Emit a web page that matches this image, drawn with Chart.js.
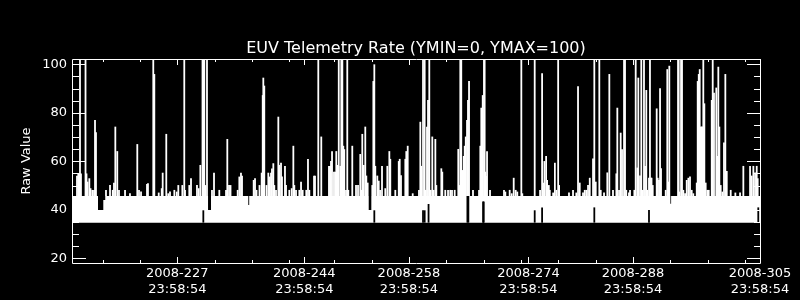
<!DOCTYPE html>
<html><head><meta charset="utf-8">
<style>html,body{margin:0;padding:0;background:#000;}canvas{display:block;}</style>
<script src="https://cdn.jsdelivr.net/npm/chart.js@4.4.1/dist/chart.umd.min.js"></script>
</head><body>
<canvas id="c" width="800" height="300"></canvas>
<script>
// ---- text ----
const titleText = 'EUV Telemetry Rate (YMIN=0, YMAX=100)';
const yTitleText = 'Raw Value';
const tickYear = '2008';
const tickTime = '23:58:54';
// ---- axes (day of year 2008) ----
const tickDays = [227, 244, 258, 274, 288, 305];
const minorDays = [217, 222, 232, 237, 242, 248, 253, 263, 268, 273, 278, 283, 293, 298, 303];
const yTicks = [20, 40, 60, 80, 100];
const xMin = 212.9, xMax = 305.0;
const yMin = 18.06, yMax = 102.2;
// ---- the dense telemetry band ----
const bandLow = 34.7, bandHigh = 45.7;
const notchStart = [216.38, 217.09, 231.11, 236.50, 252.62, 293.00];
const notchEnd   = [217.09, 217.35, 231.51, 236.62, 252.97, 293.10];
const notchTop   = [39.9,   44.0,   39.9,   42.0,   39.9,   42.5];
// dropouts inside the band
const gapDay = [230.48, 253.37, 259.89, 260.11, 260.63, 265.83, 265.96, 267.93, 268.02, 274.84, 275.83, 282.82, 290.14, 304.77];
const gapTop = [39.8, 39.8, 39.8, 39.8, 42.4, 45.7, 45.7, 43.4, 43.4, 39.8, 41, 41, 39.9, 41];
// ---- spikes above the band ----
const spikeDay = [
213.57,213.74,213.88,213.97,214.10,214.71,214.84,214.98,215.22,215.38,215.62,215.85,215.98,216.11,
217.45,217.99,218.35,218.52,218.70,218.96,219.19,220.00,220.66,221.64,221.87,222.14,222.94,223.07,
223.78,223.92,224.51,224.91,225.04,225.52,225.79,226.02,226.60,226.92,227.13,227.67,227.93,228.03,
228.60,228.83,229.63,229.86,230.08,230.37,230.50,230.61,230.74,230.97,231.64,231.91,232.62,233.52,
233.69,233.92,234.12,235.08,235.30,235.52,235.66,237.22,237.40,237.60,238.00,238.29,238.43,238.51,
238.64,238.94,239.18,239.37,239.54,239.67,239.85,239.98,240.21,240.52,240.65,240.88,241.01,241.41,
241.55,241.99,242.31,242.53,242.66,242.89,243.33,243.56,243.78,244.26,244.49,244.67,245.30,245.43,
245.87,246.27,247.30,247.44,247.57,247.71,247.97,248.15,248.28,248.47,248.61,248.82,248.95,249.09,
249.22,249.35,249.58,249.75,249.89,250.42,250.92,251.19,251.49,251.63,251.76,251.95,252.16,252.30,
252.48,253.10,253.24,253.37,253.50,253.77,253.96,254.14,254.40,254.84,255.11,255.38,255.51,256.18,
256.64,256.77,256.94,257.52,257.65,257.84,258.51,259.35,259.53,259.66,259.89,260.11,260.25,260.42,
260.56,260.73,260.92,261.13,261.32,261.54,261.67,262.34,262.47,262.87,263.24,263.54,263.77,264.13,
264.61,264.75,264.88,265.01,265.15,265.34,265.47,265.61,265.78,265.91,266.05,266.58,267.39,267.56,
267.69,267.88,268.05,268.14,268.23,268.32,268.46,268.86,270.73,270.91,271.49,271.76,272.03,272.30,
272.51,273.05,273.18,274.84,275.56,275.83,275.96,276.14,276.37,276.50,276.73,276.86,277.31,277.54,
277.75,277.98,278.11,279.43,279.97,280.41,280.64,280.87,281.31,281.54,281.76,281.98,282.21,282.65,
282.82,283.01,283.49,283.68,284.12,284.56,284.83,285.32,285.77,285.90,286.13,286.35,286.53,286.80,
286.93,287.10,287.46,287.60,288.18,288.36,288.58,288.71,288.94,289.11,289.30,289.47,289.61,289.78,
289.92,290.14,290.27,290.40,290.48,290.64,291.17,291.31,291.48,291.62,291.75,292.38,292.59,292.73,
292.86,294.03,294.12,294.20,294.43,294.56,294.74,294.97,295.19,295.41,295.63,295.86,296.07,296.53,
296.66,296.80,296.93,297.06,297.20,297.28,297.41,297.55,297.73,297.95,298.14,298.54,298.67,298.84,
299.15,299.29,299.42,299.56,299.74,299.96,300.18,300.36,300.55,301.08,301.70,302.33,302.77,303.67,
303.89,304.11,304.34,304.56,304.69];
const spikeVal = [
54,55,55,102,55,102,55,51.6,53,48.9,48.2,48.2,77,72,
48.2,50.2,48.2,51.2,74.3,64.2,48.2,48.2,46.8,67.1,48.2,47.5,50.6,51,
102,96,47.1,48.9,55.3,71.3,46.8,47.5,48.2,47.5,50.2,50.2,102,48.2,
50.2,53,50.2,48.9,58.5,102,102,102,50.2,102,48.2,55.3,48.2,48.2,
69.2,50.2,50.2,48.2,53.7,55.3,54,52.3,53,48.2,50.2,55.3,87.3,94.5,
91.2,50.2,55.3,53.7,55.3,57,59.2,50.2,48.2,78.4,58.5,59.4,53.7,58.1,
50.2,48.2,48.9,66.4,50.2,48.2,48.2,51.6,48.2,48.2,61,48.2,54,54,
102,70.2,58.1,58.1,60.1,64.2,55.7,55.7,64.2,58.5,102,58.1,102,102,
66.4,65,48.2,102,48.2,66.4,50.2,50.2,63,48.2,71.3,58.5,74.3,54.1,
51.2,50.2,93.1,100,58.1,54.1,52,48.2,58.1,48.9,58.1,64.2,61,48.2,
60.1,61,54.3,61,64.2,66.4,46.8,48.2,76.3,58.1,102,102,48.2,74.3,
85.3,102,48.2,70.2,48.2,69.2,50.2,57.1,55.7,48.2,48.2,48.2,48.2,48.2,
65.1,50.2,102,102,56.4,62.2,66.4,70.2,77,85.3,93.1,48.2,48.2,66.4,
82.1,87.3,102,102,55.7,53.9,64.2,48.2,48.2,47.5,48.2,46.8,53.2,48.2,
47.5,102,46.8,102,48.2,96.3,51.2,60.1,62.2,52.3,50.2,48.2,47.1,59.4,
48.2,102,50.2,47.1,48.2,47.1,91,51.2,47.1,48.2,48.2,50.2,53.2,61.2,
102,51.6,102,48.2,47.1,55.4,96,48.2,55,82.1,48.2,71.8,65,102,
102,48.2,47.1,48.2,48.2,102,57.4,94.5,54.1,102,48.2,102,58.1,89.4,
48.2,53.2,102,53.2,53.2,50.2,81.8,53.2,52.3,90.1,57.1,48.2,98,51.6,
99.4,102,102,47.5,102,102,48.2,46.8,52.3,53.2,53.7,48.2,46.8,51.2,
93.1,96,98,74.3,74.3,74.3,102,83.9,51.2,48.2,48.2,85.3,102,88.3,
90.4,62.2,99,74.3,50.2,47.5,67.8,96,56,48.2,47.1,47.1,58.1,58.1,
54.1,58.1,55.4,58.1,53];

// ---- build datasets from the arrays ----
const bandPts = [{x: xMin, y: bandHigh}];
notchStart.forEach((s, i) => {
  bandPts.push({x: s, y: bandHigh}, {x: s, y: notchTop[i]}, {x: notchEnd[i], y: notchTop[i]}, {x: notchEnd[i], y: bandHigh});
});
bandPts.push({x: xMax, y: bandHigh});

const barPts = [], barCols = [];
spikeDay.forEach((d, i) => { barPts.push({x: d, y: [bandHigh, spikeVal[i]]}); barCols.push('#ffffff'); });
gapDay.forEach((d, i) => { barPts.push({x: d, y: [bandLow, gapTop[i]]}); barCols.push('#000000'); });

const FONT = '"DejaVu Sans", sans-serif';

const framePlugin = {
  id: 'frame',
  beforeDraw(chart) {
    const c = chart.ctx;
    c.save(); c.fillStyle = '#000'; c.fillRect(0, 0, chart.width, chart.height); c.restore();
  },
  afterDatasetsDraw(chart) {
    const {ctx, chartArea: a, scales: {x, y}} = chart;
    ctx.save();
    ctx.strokeStyle = '#fff';
    ctx.lineWidth = 1;
    ctx.beginPath();
    ctx.rect(a.left + 0.5, a.top + 0.5, a.right - a.left, a.bottom - a.top);
    for (let v = yTicks[0]; v <= yTicks[yTicks.length - 1]; v += 5) {
      const py = Math.round(y.getPixelForValue(v)) + 0.5;
      const len = yTicks.includes(v) ? 14 : 7;
      ctx.moveTo(a.left, py); ctx.lineTo(a.left + len, py);
      ctx.moveTo(a.right + 1, py); ctx.lineTo(a.right + 1 - len, py);
    }
    const xt = tickDays.map(d => [d, 6]).concat(minorDays.map(d => [d, 3]));
    xt.forEach(([d, len]) => {
      const px = Math.round(x.getPixelForValue(d)) + 0.5;
      ctx.moveTo(px, a.bottom); ctx.lineTo(px, a.bottom - len);
      ctx.moveTo(px, a.top); ctx.lineTo(px, a.top + len);
    });
    ctx.stroke();
    ctx.restore();
  }
};

new Chart(document.getElementById('c'), {
  type: 'bar',
  data: {
    datasets: [
      {
        type: 'line', data: bandPts, order: 2,
        borderColor: 'rgba(0,0,0,0)', borderWidth: 0, pointRadius: 0, tension: 0,
        backgroundColor: '#ffffff', fill: {value: bandLow}, clip: 0
      },
      {
        type: 'bar', data: barPts, order: 1,
        backgroundColor: barCols, borderWidth: 0, barThickness: 1.8, inflateAmount: 0, clip: 0
      }
    ]
  },
  options: {
    responsive: false, animation: false, devicePixelRatio: 1,
    layout: {padding: {left: 0, right: 40, top: 0, bottom: 0}},
    plugins: {
      legend: {display: false},
      tooltip: {enabled: false},
      title: {
        display: true, text: titleText, color: '#ffffff', fullSize: false,
        font: {family: FONT, size: 16, weight: 'normal', lineHeight: 1.2},
        padding: {top: 39.2, bottom: 0.6}
      }
    },
    scales: {
      x: {
        type: 'linear', min: xMin, max: xMax, offset: false,
        grid: {display: false, drawTicks: false}, border: {display: false},
        afterBuildTicks: s => { s.ticks = tickDays.map(v => ({value: v})); },
        afterFit: s => { s.height = 37; },
        ticks: {
          color: '#ffffff', font: {family: FONT, size: 13, lineHeight: 1.2}, padding: 3,
          maxRotation: 0, autoSkip: false,
          callback: v => [tickYear + '-' + v, tickTime]
        }
      },
      y: {
        type: 'linear', min: yMin, max: yMax,
        grid: {display: false, drawTicks: false}, border: {display: false},
        afterBuildTicks: s => { s.ticks = yTicks.map(v => ({value: v})); },
        afterFit: s => { s.width = 72; },
        ticks: {color: '#ffffff', font: {family: FONT, size: 13}, padding: 5},
        title: {
          display: true, text: yTitleText, color: '#ffffff',
          font: {family: FONT, size: 13, lineHeight: 1.2}, padding: {top: 19, bottom: 0}
        }
      }
    }
  },
  plugins: [framePlugin]
});
</script>
</body></html>
